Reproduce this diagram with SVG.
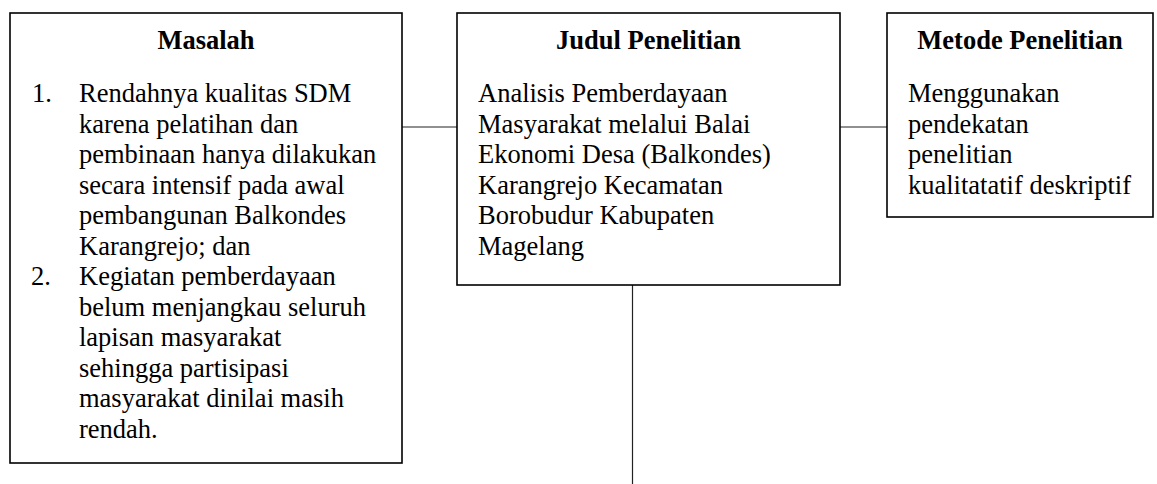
<svg xmlns="http://www.w3.org/2000/svg" width="1157" height="484" viewBox="0 0 1157 484">
<style>
.box{fill:#fff;stroke:#000;stroke-width:1.6}
.t{font-family:"Liberation Serif","Times New Roman",serif;font-size:26.5px;fill:#000}
.h{font-weight:bold;text-anchor:middle}
.c{stroke:#222;stroke-width:1.2;fill:none}
</style>
<rect width="1157" height="484" fill="#fff"/>
<g id="connectors">
<line class="c" x1="402" y1="127" x2="457" y2="127"/>
<line class="c" x1="840" y1="127" x2="887" y2="127"/>
<line class="c" x1="632.5" y1="285" x2="632.5" y2="484"/>
</g>
<g id="masalah">
<rect class="box" x="10" y="13" width="392" height="450"/>
<text class="t h" x="206" y="49">Masalah</text>
<text class="t" x="32" y="102">1.</text>
<text class="t" x="79" y="102">Rendahnya kualitas SDM</text>
<text class="t" x="79" y="132.5">karena pelatihan dan</text>
<text class="t" x="79" y="163">pembinaan hanya dilakukan</text>
<text class="t" x="79" y="193.5">secara intensif pada awal</text>
<text class="t" x="79" y="224">pembangunan Balkondes</text>
<text class="t" x="79" y="254.5">Karangrejo; dan</text>
<text class="t" x="31" y="285">2.</text>
<text class="t" x="79" y="285">Kegiatan pemberdayaan</text>
<text class="t" x="79" y="315.5">belum menjangkau seluruh</text>
<text class="t" x="79" y="346">lapisan masyarakat</text>
<text class="t" x="79" y="376.5">sehingga partisipasi</text>
<text class="t" x="79" y="407">masyarakat dinilai masih</text>
<text class="t" x="79" y="437.5">rendah.</text>
</g>
<g id="judul">
<rect class="box" x="457" y="13" width="383" height="272"/>
<text class="t h" x="648.5" y="49">Judul Penelitian</text>
<text class="t" x="478" y="102">Analisis Pemberdayaan</text>
<text class="t" x="478" y="132.5">Masyarakat melalui Balai</text>
<text class="t" x="478" y="163">Ekonomi Desa (Balkondes)</text>
<text class="t" x="478" y="193.5">Karangrejo Kecamatan</text>
<text class="t" x="478" y="224">Borobudur Kabupaten</text>
<text class="t" x="478" y="254.5">Magelang</text>
</g>
<g id="metode">
<rect class="box" x="887" y="13" width="266" height="204"/>
<text class="t h" x="1020" y="49">Metode Penelitian</text>
<text class="t" x="908" y="102">Menggunakan</text>
<text class="t" x="908" y="132.5">pendekatan</text>
<text class="t" x="908" y="163">penelitian</text>
<text class="t" x="908" y="193.5">kualitatatif deskriptif</text>
</g>
</svg>
